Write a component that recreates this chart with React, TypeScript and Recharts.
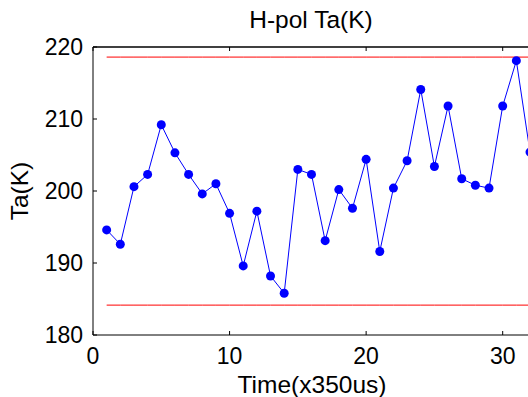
import { LineChart, Line, XAxis, YAxis } from "recharts";

const FONT = "Arial, 'Liberation Sans', sans-serif";

// sample index (x350us)
const time = [
  1, 2, 3, 4, 5, 6, 7, 8, 9, 10, 11, 12, 13, 14, 15, 16,
  17, 18, 19, 20, 21, 22, 23, 24, 25, 26, 27, 28, 29, 30, 31, 32,
];
// H-pol antenna temperature (K)
const taK = [
  194.6, 192.6, 200.6, 202.3, 209.2, 205.3, 202.3, 199.6, 201.0, 196.9, 189.6,
  197.2, 188.2, 185.8, 203.0, 202.3, 193.1, 200.2, 197.6, 204.4, 191.6, 200.4,
  204.2, 214.1, 203.4, 211.8, 201.7, 200.8, 200.4, 211.8, 218.1, 205.4,
];
const upperLimit = 218.6;
const lowerLimit = 184.15;

const xTicks = [0, 10, 20, 30];
const yTicks = [180, 190, 200, 210, 220];

const data = time.map((t, i) => ({
  t,
  ta: taK[i],
  hi: upperLimit,
  lo: lowerLimit,
}));

function BottomTick(props: any) {
  const { x, y, payload } = props;
  return (
    <g>
      <line x1={x} y1={y} x2={x} y2={y - 4} stroke="#000" />
      <text x={x} y={y + 29} textAnchor="middle" fontSize={23} fontFamily={FONT} fill="#000">
        {payload.value}
      </text>
    </g>
  );
}

// top axis keeps default tickSize (6) + tickMargin (2), so the edge is at y + 8
function TopTick(props: any) {
  const { x, y } = props;
  return <line x1={x} y1={y + 8} x2={x} y2={y + 12} stroke="#000" />;
}

function LeftTick(props: any) {
  const { x, y, payload } = props;
  return (
    <g>
      <line x1={x} y1={y} x2={x + 4} y2={y} stroke="#000" />
      <text x={x - 10} y={y + 8} textAnchor="end" fontSize={23} fontFamily={FONT} fill="#000">
        {payload.value}
      </text>
    </g>
  );
}

export default function App() {
  return (
    <div
      style={{
        position: "absolute",
        left: 0,
        top: 0,
        width: 528,
        height: 397,
        overflow: "hidden",
        background: "#fff",
      }}
    >
      <LineChart
        width={540}
        height={397}
        data={data}
        margin={{ top: 46, right: 10, bottom: 0, left: 0 }}
      >
        <XAxis
          dataKey="t"
          type="number"
          domain={[0, 32]}
          ticks={xTicks}
          allowDataOverflow
          height={62}
          stroke="#000"
          tickSize={0}
          tickMargin={0}
          tickLine={false}
          tick={<BottomTick />}
        />
        {/* top edge of the box, with inward ticks */}
        <XAxis
          xAxisId="top"
          orientation="top"
          dataKey="t"
          type="number"
          domain={[0, 32]}
          ticks={xTicks}
          height={1}
          stroke="#000"
          strokeWidth={1.3}
          tickLine={false}
          tick={<TopTick />}
        />
        <YAxis
          type="number"
          domain={[180, 220]}
          ticks={yTicks}
          width={93}
          stroke="#000"
          tickSize={0}
          tickMargin={0}
          tickLine={false}
          tick={<LeftTick />}
        />
        <Line
          xAxisId="top"
          dataKey="hi"
          stroke="#ff0000"
          strokeWidth={1}
          dot={false}
          isAnimationActive={false}
        />
        <Line
          dataKey="lo"
          stroke="#ff0000"
          strokeWidth={1}
          dot={false}
          isAnimationActive={false}
        />
        <Line
          dataKey="ta"
          stroke="#0000ff"
          strokeWidth={1}
          dot={{ r: 4.5, fill: "#0000ff", stroke: "none" }}
          isAnimationActive={false}
        />
      </LineChart>
      <svg
        width={528}
        height={397}
        style={{ position: "absolute", left: 0, top: 0, pointerEvents: "none" }}
      >
        <text x={311} y={28} textAnchor="middle" fontSize={24.5} fontFamily={FONT} fill="#000">
          H-pol Ta(K)
        </text>
        <text x={312} y={393} textAnchor="middle" fontSize={24.5} fontFamily={FONT} fill="#000">
          Time(x350us)
        </text>
        <text
          x={28}
          y={191}
          textAnchor="middle"
          fontSize={24.5}
          fontFamily={FONT}
          fill="#000"
          transform="rotate(-90, 28, 191)"
        >
          Ta(K)
        </text>
      </svg>
    </div>
  );
}
